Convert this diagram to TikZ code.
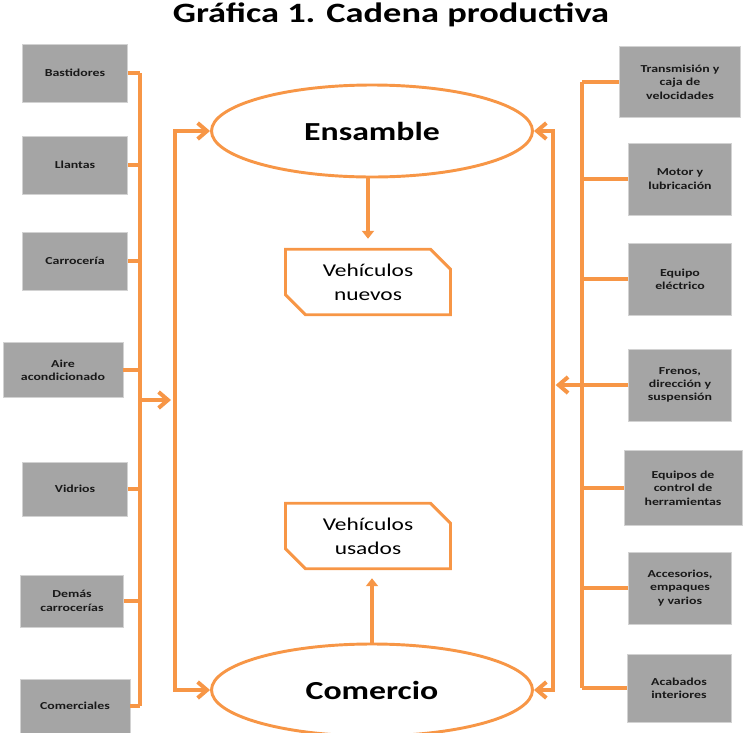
\documentclass[tikz,border=0pt]{standalone}
\usepackage{fontspec}
\setmainfont{Carlito}[FakeStretch=1.3]
\usetikzlibrary{shapes.geometric,shapes.misc,arrows.meta}

\definecolor{naranja}{HTML}{F79646}
\definecolor{gris}{HTML}{A5A5A5}
\newlength\px
\setlength\px{0.75pt}

\tikzset{
  pieza/.style={fill=gris, draw=gris!50, text=black!90, align=center,
    font=\bfseries\fontsize{8}{10}\selectfont, inner sep=1pt,
    minimum width=105\px, minimum height=58\px},
  etapa/.style={ellipse, draw=naranja, line width=2.2pt, fill=white,
    minimum width=321\px, minimum height=92\px,
    font=\bfseries\fontsize{19.5}{22}\selectfont},
  producto/.style={chamfered rectangle,
    chamfered rectangle corners={north east,south west},
    chamfered rectangle xsep=10\px, chamfered rectangle ysep=10\px,
    draw=naranja, line width=2.2pt, align=center,
    minimum width=165\px, minimum height=58\px,
    font=\fontsize{13.5}{18}\selectfont},
  bus/.style={draw=naranja, line width=3pt},
  barba/.tip={Straight Barb[length=7pt,width=12pt]},
  flecha/.style={draw=naranja, line width=3pt, -barba},
  punta/.style={draw=naranja, line width=3pt, -{Triangle[length=6pt,width=9pt]}}
}

\begin{document}
\begin{tikzpicture}[x=\px, y=-\px]
\useasboundingbox (0,0) rectangle (744,733);

\node[font=\bfseries\fontsize{21}{24}\selectfont] (titulo) at (391,15) {Gráfica 1. Cadena productiva};

% etapas
\node[etapa] (ensamble) at (372,131) {Ensamble};
\node[etapa] (comercio) at (372,690) {Comercio};
\node[producto] (nuevos) at (368,282) {Vehículos\\nuevos};
\node[producto] (usados) at (368,536) {Vehículos\\usados};
\coordinate (pie) at ([xshift=3pt]usados.south);
\draw[punta, shorten >=6.75pt] (ensamble.south -| nuevos.north) -- (nuevos.north);
\draw[punta, shorten >=6pt] (pie |- comercio.north) -- (pie);

% proveedores izquierda
\node[pieza] (b1) at (75,73) {Bastidores};
\node[pieza] (b2) at (75,165) {Llantas};
\node[pieza] (b3) at (75,261) {Carrocería};
\node[pieza, minimum width=120\px, minimum height=55\px] (b4) at (63,370) {Aire\\acondicionado};
\node[pieza, minimum height=54\px] (b5) at (75,489) {Vidrios};
\node[pieza, minimum width=103\px, minimum height=52\px] (b6) at (72,601) {Demás\\carrocerías};
\node[pieza, minimum width=110\px, minimum height=54\px] (b7) at (75,706) {Comerciales};

\coordinate (busIz) at (140,400);
\coordinate (colIz) at (175,400);
\draw[bus] (b1.east -| busIz) -- (b7.east -| busIz);
\foreach \n in {b1,b2,b3,b4,b5,b6,b7} {\draw[bus] (\n.east) -- (\n.east -| busIz);}
\draw[flecha] (busIz) -- ([xshift=-3pt]colIz);
\draw[flecha, barba-barba] (ensamble.west) -| (colIz) |- (comercio.west);

% proveedores derecha
\node[pieza, minimum width=121\px, minimum height=71\px] (r1) at (680,82) {Transmisión y\\caja de\\velocidades};
\node[pieza, minimum width=103\px, minimum height=72\px] (r2) at (680,179) {Motor y\\lubricación};
\node[pieza, minimum width=103\px, minimum height=72\px] (r3) at (680,279) {Equipo\\eléctrico};
\node[pieza, minimum width=103\px, minimum height=72\px] (r4) at (680,385) {Frenos,\\dirección y\\suspensión};
\node[pieza, minimum width=118\px, minimum height=75\px] (r5) at (683,488) {Equipos de\\control de\\herramientas};
\node[pieza, minimum width=103\px, minimum height=72\px] (r6) at (680,588) {Accesorios,\\empaques\\y varios};
\node[pieza, minimum width=104\px, minimum height=68\px] (r7) at (679,688) {Acabados\\interiores};

\coordinate (busDe) at (582,385);
\coordinate (colDe) at (553,385);
\draw[bus] (r1.west -| busDe) -- (r7.west -| busDe);
\foreach \n in {r1,r2,r3,r4,r5,r6,r7} {\draw[bus] (\n.west) -- (\n.west -| busDe);}
\draw[flecha] (r4.west) -- ([xshift=2pt]colDe);
\draw[flecha, barba-barba] (ensamble.east) -| (colDe) |- (comercio.east);
\end{tikzpicture}
\end{document}
